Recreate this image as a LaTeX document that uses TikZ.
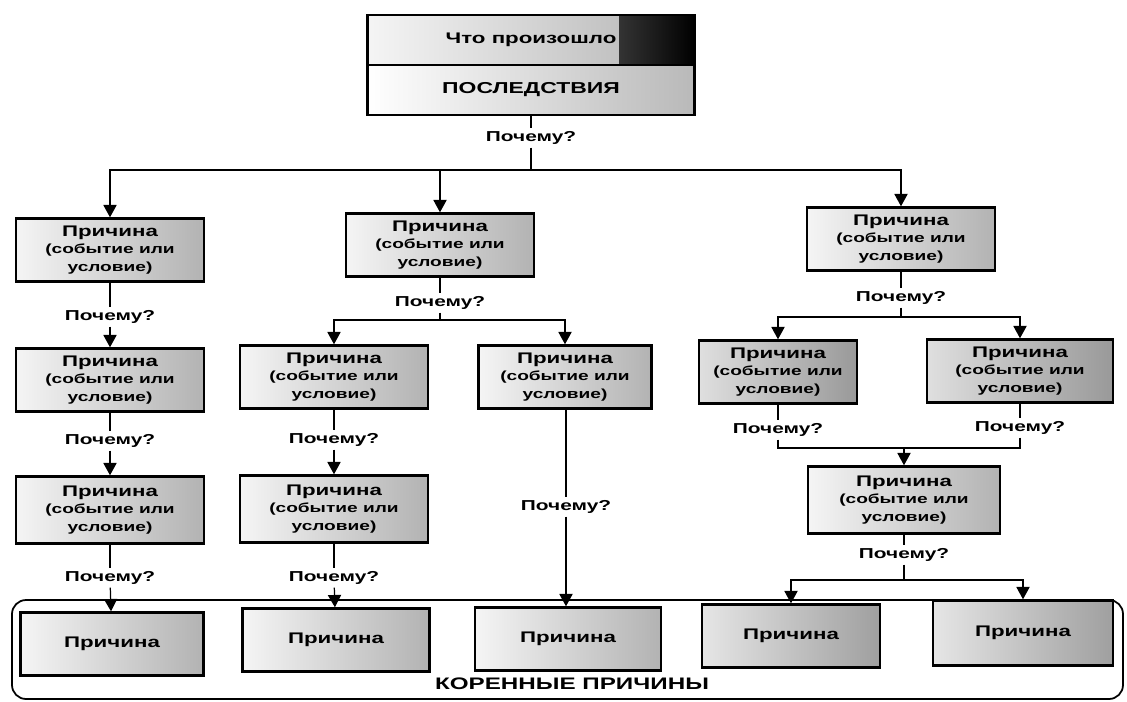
\documentclass[tikz,border=0pt]{standalone}
\usepackage{fontspec}
\setmainfont{Liberation Sans}[FakeStretch=1.45]
\usetikzlibrary{arrows.meta}
\tikzstyle{box}=[rectangle, draw=black, line width=1.4pt, inner sep=0pt, align=center, minimum width=3.76cm, minimum height=1.26cm, left color=gray!8, right color=gray!60, font=\fontsize{7.5}{10.2}\selectfont\bfseries]
\tikzstyle{darkbox}=[box, left color=gray!25, right color=gray!80]
\tikzstyle{rootbox}=[box, minimum width=3.66cm]
\tikzstyle{why}=[inner sep=1.5pt, font=\fontsize{8.2}{10}\selectfont\bfseries]
\tikzstyle{l1}=[line width=0.7pt]
\tikzstyle{arr}=[l1, -{Triangle[length=7pt, width=7.5pt]}]
\newcommand{\causetxt}{{\fontsize{8.75}{10.2}\selectfont Причина}\\(событие или\\условие)}
\newcommand{\roottxt}{\fontsize{8.75}{10.2}\selectfont Причина}

\begin{document}
\begin{tikzpicture}[x=0.02cm, y=-0.02cm]
    \useasboundingbox (0,0) rectangle (1127,701);

    % consequence
    \node (what) [box, minimum width=6.54cm, minimum height=1cm, fill=gray!25,
        path picture={\shade[left color=gray!25, right color=black] ([xshift=-1.5cm]path picture bounding box.north east) rectangle (path picture bounding box.south east);},
        font=\fontsize{8.75}{10}\selectfont\bfseries] at (531,40) {Что произошло};
    \node (cons) [box, minimum width=6.54cm, minimum height=1cm, left color=white, right color=gray!55,
        font=\fontsize{9}{10}\selectfont\bfseries] at (531,90) {ПОСЛЕДСТВИЯ};
    \node (q0) [why] at (531,138) {Почему?};
    \coordinate (j0) at (531,170);

    \node (c1) [box] at (110,250) {\causetxt};
    \node (c2) [box] at (440,245) {\causetxt};
    \node (c3) [box] at (901,239) {\causetxt};
    \draw[l1] (cons) -- (q0);
    \draw[l1] (q0) -- (j0);
    \draw[arr] (j0) -| (c1);
    \draw[arr] (j0) -| (c2);
    \draw[arr] (j0) -| (c3);

    % root causes frame
    \draw[line width=1pt, rounded corners=8pt] (12,600) rectangle (1123,699);
    \node (rootlbl) [font=\fontsize{9.5}{10}\selectfont\bfseries] at (572,684) {КОРЕННЫЕ ПРИЧИНЫ};

    % left branch
    \node (q1) [why] at (110,317) {Почему?};
    \node (c11) [box] at (110,380) {\causetxt};
    \node (q11) [why] at (110,441) {Почему?};
    \node (c111) [box, minimum height=1.34cm] at (110,510) {\causetxt};
    \node (q111) [why] at (110,578) {Почему?};
    \node (r1) [rootbox] at (112,644) {\roottxt};
    \draw[l1] (c1) -- (q1);
    \draw[arr] (q1) -- (c11);
    \draw[l1] (c11) -- (q11);
    \draw[arr] (q11) -- (c111);
    \draw[l1] (c111) -- (q111);
    \draw[arr] (q111) -- (r1);

    % middle branch
    \node (q2) [why] at (440,303) {Почему?};
    \coordinate (j2) at (440,320);
    \node (c21) [box] at (334,377) {\causetxt};
    \node (c22) [box, minimum width=3.46cm] at (565,377) {\causetxt};
    \node (q21) [why] at (334,440) {Почему?};
    \node (c211) [box, minimum height=1.34cm] at (334,509) {\causetxt};
    \node (q211) [why] at (334,578) {Почему?};
    \node (r2) [rootbox, minimum width=3.74cm] at (336,640) {\roottxt};
    \node (q22) [why] at (566,507) {Почему?};
    \node (r3) [rootbox, minimum width=3.72cm] at (568,639) {\roottxt};
    \draw[l1] (c2) -- (q2);
    \draw[l1] (q2) -- (j2);
    \draw[arr] (j2) -| (c21);
    \draw[arr] (j2) -| (c22);
    \draw[l1] (c21) -- (q21);
    \draw[arr] (q21) -- (c211);
    \draw[l1] (c211) -- (q211);
    \draw[arr] (q211) -- (r2);
    \draw[l1] (c22.south -| q22) -- (q22);
    \draw[arr] (q22) -- (q22 |- r3.north);

    % right branch
    \node (q3) [why] at (901,298) {Почему?};
    \coordinate (j3) at (901,317);
    \node (c31) [darkbox, minimum width=3.16cm] at (778,372) {\causetxt};
    \node (c32) [darkbox, minimum width=3.72cm] at (1020,371) {\causetxt};
    \node (q31) [why] at (778,430) {Почему?};
    \node (q32) [why] at (1020,428) {Почему?};
    \coordinate (j31) at (904,448);
    \node (c311) [box, minimum width=3.84cm, minimum height=1.34cm] at (904,500) {\causetxt};
    \node (q311) [why] at (904,555) {Почему?};
    \coordinate (j311) at (904,580);
    \node (r4) [rootbox, left color=gray!20, right color=gray!75, minimum width=3.56cm] at (791,636) {\roottxt};
    \node (r5) [rootbox, left color=gray!20, right color=gray!75, minimum width=3.6cm, minimum height=1.3cm] at (1023,633) {\roottxt};
    \draw[l1] (c3) -- (q3);
    \draw[l1] (q3) -- (j3);
    \draw[arr] (j3) -| (c31);
    \draw[arr] (j3) -| (c32);
    \draw[l1] (c31) -- (q31);
    \draw[l1] (c32) -- (q32);
    \draw[l1] (q31) |- (j31);
    \draw[l1] (q32) |- (j31);
    \draw[arr] (j31) -- (c311);
    \draw[l1] (c311) -- (q311);
    \draw[l1] (q311) -- (j311);
    \draw[arr] (j311) -| (r4);
    \draw[arr] (j311) -| (r5);
\end{tikzpicture}
\end{document}
